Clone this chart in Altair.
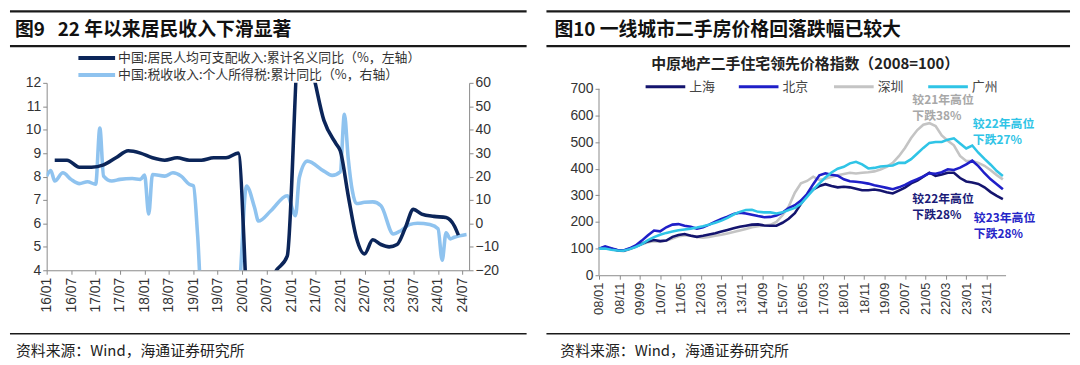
import altair as alt
import pandas as pd

CJK = "Noto Sans CJK SC"
LAT = "Liberation Sans"

# ---------------- Figure 9 data ----------------
inc_dates = ["2016-03-01", "2016-06-01", "2016-09-01", "2016-12-01", "2017-03-01", "2017-06-01",
             "2017-09-01", "2017-12-01", "2018-03-01", "2018-06-01", "2018-09-01", "2018-12-01",
             "2019-03-01", "2019-06-01", "2019-09-01", "2019-12-01", "2020-03-01", "2020-06-01",
             "2020-09-01", "2020-12-01", "2021-03-01", "2021-06-01", "2021-09-01", "2021-12-01",
             "2022-01-01", "2022-03-01", "2022-05-01", "2022-07-01", "2022-09-01", "2022-11-01",
             "2023-01-01", "2023-03-01", "2023-05-01", "2023-07-01", "2023-09-01", "2023-12-01",
             "2024-03-01", "2024-05-01", "2024-06-01"]
inc_vals = [8.7, 8.7, 8.4, 8.4, 8.5, 8.8, 9.1, 9.0, 8.8, 8.7, 8.8, 8.7,
            8.7, 8.8, 8.8, 9.0, 0.8, 2.4, 3.9, 4.6, 13.7, 12.6, 10.4, 9.4,
            9.1, 7.2, 5.4, 4.7, 5.3, 5.1, 5.0, 5.1, 5.8, 6.6, 6.4, 6.3,
            6.25, 5.9, 5.5]

iit_dates = ["2016-01-01", "2016-02-01", "2016-03-01", "2016-05-01", "2016-07-01", "2016-09-01",
             "2016-11-01", "2017-01-01", "2017-02-01", "2017-03-01", "2017-05-01", "2017-07-01",
             "2017-10-01", "2017-12-01", "2018-01-01", "2018-02-01", "2018-03-01", "2018-06-01",
             "2018-08-01", "2018-10-01", "2018-12-01", "2019-01-01", "2019-02-01", "2019-03-01",
             "2019-12-01", "2020-02-01", "2020-04-01", "2020-05-01", "2020-08-01", "2020-12-01",
             "2021-02-01", "2021-03-01", "2021-05-01", "2021-09-01", "2021-11-01", "2022-01-01",
             "2022-02-01", "2022-03-01", "2022-04-01", "2022-05-01", "2022-07-01", "2022-09-01",
             "2022-11-01", "2023-02-01", "2023-04-01", "2023-06-01", "2023-08-01", "2023-11-01",
             "2024-01-01", "2024-02-01", "2024-03-01", "2024-04-01", "2024-05-01", "2024-08-01"]
iit_vals = [20.2, 22.6, 18.1, 21.6, 18.8, 17.0, 17.8, 16.7, 40.7, 20.2, 18.1, 18.8,
            19.2, 18.8, 20.6, 4.0, 20.9, 20.2, 21.6, 20.2, 16.7, 16.0, -5, -30,
            -30, 16, 6.8, 1.0, 5.4, 11.8, 3.3, 19.5, 26.6, 22.3, 20.5, 22.0,
            46.6, 28, 14, 8.5, 9.0, 9.2, 7.5, -4.5, -3.0, -0.5, 0.1, -0.5,
            -2.3, -15.7, -4.0, -6.6, -5.9, -4.7]

# ---------------- Figure 10 data (quarterly, 2008-01 .. 2024-07) ----------------
hp_dates = [d.strftime("%Y-%m-%d") for d in pd.date_range("2008-01-01", "2024-07-01", freq="3MS")]
sh = [100, 104, 99, 94, 92, 99, 108, 118, 127, 132,
      128, 130, 144, 151, 155, 148, 144, 148, 153, 158,
      164, 170, 176, 182, 186, 190, 191, 187, 186, 186,
      197, 212, 233, 268, 300, 322, 335, 342, 335, 330,
      332, 330, 325, 319, 319, 322, 318, 312, 307, 318,
      329, 345, 355, 370, 385, 373, 378, 385, 385, 365,
      352, 348, 343, 330, 312, 298, 286]
bj = [100, 108, 101, 95, 93, 101, 112, 130, 150, 168,
      165, 180, 190, 192, 186, 182, 175, 180, 190, 201,
      211, 220, 230, 235, 232, 227, 222, 218, 219, 224,
      235, 252, 263, 280, 305, 342, 375, 383, 377, 374,
      360, 353, 351, 348, 344, 338, 333, 328, 323, 330,
      339, 351, 361, 371, 383, 381, 387, 398, 395, 404,
      416, 430, 410, 383, 360, 342, 323]
sz = [100, 103, 98, 93, 90, 97, 108, 116, 124, 128,
      126, 130, 138, 146, 149, 150, 144, 141, 144, 148,
      152, 157, 162, 168, 174, 180, 184, 187, 189, 200,
      225, 258, 310, 345, 354, 370, 358, 362, 370, 375,
      380, 385, 382, 385, 387, 390, 397, 407, 422, 447,
      478, 515, 545, 565, 571, 560, 525, 505, 488, 448,
      429, 429, 422, 411, 394, 376, 360]
gz = [100, 100, 96, 93, 92, 98, 106, 117, 132, 143,
      152, 159, 164, 169, 172, 175, 179, 184, 190, 197,
      205, 215, 228, 238, 245, 246, 238, 236, 236, 232,
      236, 245, 253, 268, 294, 321, 345, 367, 386, 400,
      407, 420, 426, 416, 401, 403, 408, 410, 412, 422,
      422, 436, 457, 478, 497, 500, 500, 509, 514, 495,
      476, 487, 460, 437, 415, 391, 373]

cities = ["上海", "北京", "深圳", "广州"]
city_vals = {"上海": sh, "北京": bj, "深圳": sz, "广州": gz}
city_colors = {"上海": "#14146e", "北京": "#1f1fc8", "深圳": "#c4c4c4", "广州": "#2fc4e6"}

left_ticks = ["16/01", "16/07", "17/01", "17/07", "18/01", "18/07", "19/01", "19/07", "20/01",
              "20/07", "21/01", "21/07", "22/01", "22/07", "23/01", "23/07", "24/01", "24/07"]
right_ticks = ["08/01", "08/11", "09/09", "10/07", "11/05", "12/03", "13/01", "13/11", "14/09",
               "15/07", "16/05", "17/03", "18/01", "18/11", "19/09", "20/07", "21/05", "22/03",
               "23/01", "23/11"]
right_yticks = [0, 100, 200, 300, 400, 500, 600, 700]


def dt(s):
    yy, mm = s.split("/")
    return alt.DateTime(year=2000 + int(yy), month=int(mm), date=1, utc=True)


one = pd.DataFrame({"k": [0]})


def rule(ox, oy, x1, x2, y, color="#1a1a1a", sw=2.0):
    return alt.Chart(one).mark_rule(color=color, strokeWidth=sw).encode(
        x=alt.value(x1 - ox), x2=alt.value(x2 - ox), y=alt.value(y - oy))


def label(ox, oy, x, y, s, size=13, color="#333333", weight="normal", align="left", font=CJK):
    return alt.Chart(one).mark_text(text=s, fontSize=size, color=color, fontWeight=weight,
                                    align=align, baseline="middle", font=font).encode(
        x=alt.value(x - ox), y=alt.value(y - oy))


AX = dict(tickColor="#8a8a8a", tickSize=4, labelColor="#333333",
          labelFont=LAT, grid=False, title=None, labelOverlap=False)
LBL = "utcFormat(datum.value, '%y/%m')"

# ---------------- Left panel ----------------
LX, LY = 46, 81
inc_df = pd.DataFrame({"date": inc_dates, "v": inc_vals})
iit_df = pd.DataFrame({"date": iit_dates, "v": iit_vals})

xL = alt.X("date:T", title=None,
           scale=alt.Scale(type="utc", domain=[alt.DateTime(year=2016, month=1, date=1, utc=True),
                                               alt.DateTime(year=2024, month=8, date=20, utc=True)]),
           axis=alt.Axis(values=[dt(t) for t in left_ticks], labelExpr=LBL, domainColor="#8a8a8a",
                         labelAngle=270, labelFontSize=14, labelPadding=3, **AX))

dark = alt.Chart(inc_df).mark_line(color="#0b2559", strokeWidth=3.6, clip=True,
                                   interpolate="monotone").encode(
    x=xL,
    y=alt.Y("v:Q", scale=alt.Scale(domain=[4, 12], nice=False),
            axis=alt.Axis(orient="left", values=list(range(4, 13)), labelFontSize=14,
                          domainColor="#8a8a8a", **AX)))
light = alt.Chart(iit_df).mark_line(color="#8fc3ef", strokeWidth=3.6, clip=True,
                                    interpolate="monotone").encode(
    x=xL,
    y=alt.Y("v:Q", scale=alt.Scale(domain=[-20, 60], nice=False),
            axis=alt.Axis(orient="right", values=list(range(-20, 61, 10)), labelFontSize=14,
                          domainColor="#8a8a8a", **AX)))

left_ann = [
    rule(LX, LY, 9, 530, 9, sw=2.2),
    label(LX, LY, 14, 28, "图9\u00a0\u00a0\u00a022 年以来居民收入下滑显著", size=19, weight="bold", color="#111111"),
    rule(LX, LY, 9, 530, 44, sw=2.2),
    rule(LX, LY, 78, 115, 56, color="#0b2559", sw=4),
    label(LX, LY, 118, 56, "中国:居民人均可支配收入:累计名义同比（%，左轴）", size=13),
    rule(LX, LY, 78, 115, 73, color="#8fc3ef", sw=4),
    label(LX, LY, 118, 73, "中国:税收收入:个人所得税:累计同比（%，右轴）", size=13),
    rule(LX, LY, 9, 530, 334, sw=1.6),
    label(LX, LY, 15, 351, "资料来源：Wind，海通证券研究所", size=15, color="#222222"),
]

left = alt.layer(light, dark, *left_ann).resolve_scale(y="independent").properties(
    width=426, height=189)

# ---------------- Right panel ----------------
RX, RY = 601, 81
RH = 194
ytop = 700 * RH / 188.0
xR = alt.X("date:T", title=None,
           scale=alt.Scale(type="utc", domain=[alt.DateTime(year=2008, month=1, date=1, utc=True),
                                               alt.DateTime(year=2024, month=8, date=10, utc=True)]),
           axis=alt.Axis(values=[dt(t) for t in right_ticks], labelExpr=LBL, domainColor="#8a8a8a",
                         labelAngle=270, labelFontSize=13, labelPadding=3, **AX))
yR = alt.Y("v:Q", scale=alt.Scale(domain=[0, ytop], nice=False),
           axis=alt.Axis(values=right_yticks, labelFontSize=14, domain=False, **AX))

# y-axis line drawn only from 0 to 700 (the axis range of the reference)
axis_df = pd.DataFrame({"v": [right_yticks[0]], "v2": [right_yticks[-1]]})
yaxis_line = alt.Chart(axis_df).mark_rule(color="#8a8a8a", strokeWidth=1).encode(
    x=alt.value(0), y=yR, y2="v2:Q")

line_layers = []
for c in ["深圳", "上海", "北京", "广州"]:
    df = pd.DataFrame({"date": hp_dates, "v": city_vals[c]})
    line_layers.append(alt.Chart(df).mark_line(color=city_colors[c], strokeWidth=2.6).encode(x=xR, y=yR))

right_ann = [
    rule(RX, RY, 548, 1076, 9, sw=2.2),
    label(RX, RY, 556, 28, "图10 一线城市二手房价格回落跌幅已较大", size=19, weight="bold", color="#111111"),
    rule(RX, RY, 548, 1076, 44, sw=2.2),
    label(RX, RY, 809, 62, "中原地产二手住宅领先价格指数（2008=100）", size=15, weight="bold",
          align="center", color="#222222"),
    rule(RX, RY, 548, 1076, 334, sw=1.6),
    label(RX, RY, 562, 351, "资料来源：Wind，海通证券研究所", size=15, color="#222222"),
]
leg_pos = {"上海": 648, "北京": 742, "深圳": 838, "广州": 933}
for c in cities:
    x0 = leg_pos[c]
    right_ann.append(rule(RX, RY, x0, x0 + 40, 85, color=city_colors[c], sw=3))
    right_ann.append(label(RX, RY, x0 + 44, 85, c, size=13, color="#444444"))

notes = [
    (917, 98, "较21年高位", "#a8a8a8"), (917, 114, "下跌38%", "#a8a8a8"),
    (978, 123, "较22年高位", "#2fc4e6"), (978, 139, "下跌27%", "#2fc4e6"),
    (917, 198, "较22年高位", "#1b1b78"), (917, 214, "下跌28%", "#1b1b78"),
    (979, 217, "较23年高位", "#2626c8"), (979, 233, "下跌28%", "#2626c8"),
]
for x, y, s, col in notes:
    right_ann.append(label(RX, RY, x, y, s, size=12, color=col, weight="bold"))

right = alt.layer(yaxis_line, *line_layers, *right_ann).properties(width=410, height=RH)

chart = alt.hconcat(left, right, spacing=16).properties(padding=0).configure_view(stroke=None)

chart.save("out.html", embed_options={"renderer": "svg", "actions": False})
